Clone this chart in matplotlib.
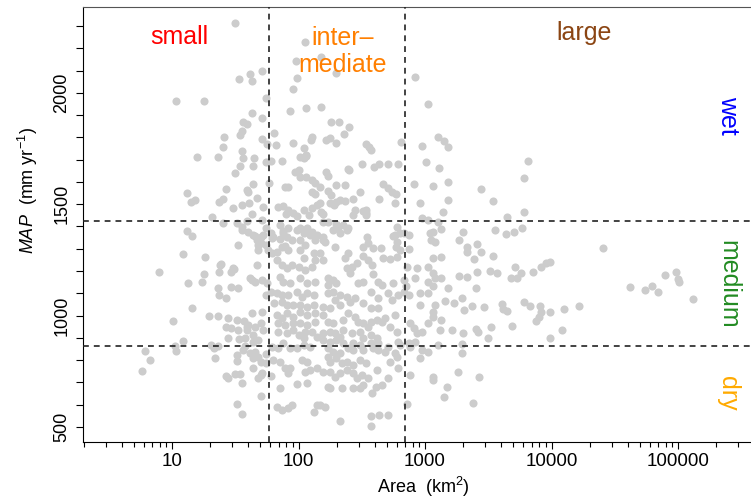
import numpy as np
import matplotlib
matplotlib.use("Agg")
import matplotlib.pyplot as plt
from matplotlib.ticker import FixedLocator, MultipleLocator, FuncFormatter

plt.rcParams['font.family'] = ['Liberation Sans', 'DejaVu Sans']
plt.rcParams['mathtext.fontset'] = 'custom'
plt.rcParams['mathtext.rm'] = 'Liberation Sans'
plt.rcParams['mathtext.it'] = 'Liberation Sans:italic'

# catchments: (log10 area in km2, MAP in mm/yr)
small_pts = [
    (1.50, 2313), (1.03, 1963), (1.25, 1963), (1.71, 2097), (1.62, 2084), (1.53, 2061), (1.63, 2052), (1.74, 1976),
    (1.63, 1909), (1.71, 1886), (1.56, 1868), (1.59, 1859), (1.55, 1828), (1.54, 1810), (1.41, 1801), (1.71, 1792),
    (1.75, 1770), (1.40, 1756), (1.55, 1738), (1.20, 1711), (1.36, 1711), (1.56, 1707), (1.65, 1707), (1.74, 1689),
    (1.54, 1671), (1.64, 1671), (1.50, 1640), (1.64, 1590), (1.43, 1568), (1.59, 1563), (1.60, 1554), (1.12, 1550),
    (1.18, 1518), (1.15, 1509), (1.40, 1523), (1.37, 1509), (1.67, 1527), (1.55, 1496), (1.61, 1505), (1.72, 1487),
    (1.48, 1483), (1.63, 1456), (1.32, 1442), (1.40, 1415), (1.51, 1415), (1.59, 1424), (1.71, 1429), (1.74, 1393),
    (1.12, 1379), (1.16, 1357), (1.55, 1384), (1.60, 1375), (1.55, 1397), (1.66, 1357), (1.70, 1352), (1.72, 1361),
    (1.64, 1361), (1.67, 1339), (1.70, 1325), (1.52, 1316), (1.68, 1316), (1.74, 1316), (1.68, 1294), (1.76, 1294),
    (1.26, 1263), (1.38, 1227), (1.48, 1213), (1.67, 1227), (1.09, 1276), (1.39, 1231), (0.90, 1195), (1.37, 1195),
    (1.47, 1195), (1.49, 1209), (1.25, 1186), (1.62, 1168), (1.66, 1150), (1.71, 1159), (1.75, 1146), (1.47, 1128),
    (1.52, 1124), (1.63, 1159), (1.13, 1146), (1.24, 1150), (1.36, 1124), (1.37, 1092), (1.43, 1079), (1.74, 1092),
    (1.16, 1034), (1.71, 1016), (1.63, 1011), (1.01, 975), (1.29, 998), (1.36, 998), (1.44, 989), (1.51, 980),
    (1.57, 975), (1.43, 948), (1.60, 957), (1.66, 948), (1.72, 935), (1.52, 935), (1.59, 935), (1.64, 912),
    (1.44, 899), (1.53, 895), (1.58, 899), (1.09, 886), (1.02, 863), (1.31, 868), (1.33, 854), (1.36, 863),
    (1.58, 863), (0.79, 841), (1.03, 841), (0.83, 800), (0.76, 751), (1.34, 809), (1.51, 823), (1.62, 832),
    (1.64, 809), (1.74, 827), (1.51, 796), (1.70, 791), (1.74, 787), (1.64, 764), (1.71, 742), (1.43, 729),
    (1.44, 719), (1.50, 737), (1.54, 737), (1.55, 697), (1.70, 639), (1.51, 603), (1.55, 558), (1.59, 948),
    (1.47, 944), (1.70, 966), (1.64, 881), (1.68, 890), (1.56, 845), (1.66, 836), (1.68, 814), (1.70, 733),
    (1.68, 719),
]

intermediate_pts = [
    (1.81, 1819), (1.82, 1765), (1.78, 1693), (1.77, 1595), (1.84, 1487), (1.80, 1352), (1.78, 729), (1.83, 589),
    (2.05, 2228), (2.18, 2160), (1.98, 2142), (2.30, 2088), (1.99, 2066), (1.96, 2017), (1.93, 1918), (2.06, 1931),
    (2.18, 1936), (2.26, 1868), (2.32, 1868), (2.40, 1846), (2.36, 1815), (2.11, 1801), (2.10, 1788), (2.22, 1788),
    (2.25, 1797), (2.30, 1774), (1.96, 1774), (2.04, 1752), (2.53, 1770), (2.56, 1756), (2.81, 1779), (2.06, 1720),
    (2.04, 1707), (1.87, 1693), (2.50, 1680), (2.60, 1666), (2.64, 1680), (2.71, 1680), (2.79, 1680), (1.97, 1644),
    (2.00, 1653), (2.01, 1622), (2.06, 1622), (2.11, 1608), (2.22, 1644), (2.23, 1626), (2.39, 1658), (1.89, 1577),
    (1.92, 1577), (2.17, 1577), (2.30, 1586), (2.37, 1586), (2.67, 1590), (2.71, 1572), (2.74, 1554), (2.77, 1545),
    (2.11, 1554), (2.13, 1545), (2.23, 1559), (2.26, 1541), (2.33, 1518), (2.49, 1554), (1.88, 1491), (1.92, 1474),
    (1.90, 1456), (1.96, 1460), (1.99, 1447), (2.04, 1474), (2.11, 1483), (2.18, 1465), (2.19, 1456), (2.25, 1505),
    (2.30, 1509), (2.37, 1514), (2.43, 1523), (2.53, 1474), (2.53, 1460), (2.64, 1523), (2.76, 1505),
    (1.88, 1370), (1.91, 1352), (1.95, 1339), (1.85, 1343), (1.89, 1312), (1.99, 1384), (2.04, 1370), (2.11, 1375),
    (2.15, 1361), (2.19, 1339), (2.27, 1384), (2.33, 1370), (2.38, 1384), (2.54, 1352), (2.55, 1325), (2.76, 1361),
    (2.78, 1330), (2.01, 1711), (2.06, 1716), (2.13, 1595), (2.08, 1451), (2.15, 1496), (1.78, 1370), (1.79, 1348),
    (1.85, 1406), (1.88, 1379), (1.92, 1393), (2.01, 1393), (2.07, 1393), (2.09, 1361), (2.01, 1339), (2.05, 1316),
    (2.13, 1339), (1.79, 1281), (1.83, 1285), (1.87, 1307), (1.92, 1294), (2.01, 1294), (2.04, 1258), (2.12, 1281),
    (2.13, 1249), (1.83, 1249), (1.87, 1227), (1.91, 1213), (1.95, 1227), (2.00, 1218), (2.05, 1204), (2.11, 1218),
    (1.85, 1173), (1.88, 1150), (1.93, 1146), (2.01, 1168), (2.07, 1146), (2.13, 1150),
    (2.57, 1743), (2.40, 1653), (2.28, 1496), (2.17, 1505), (2.45, 1474), (2.43, 1451), (2.51, 1469), (2.53, 1451),
    (2.19, 1420), (2.23, 1420), (2.30, 1411), (2.31, 1397), (2.35, 1406), (2.39, 1393), (2.78, 1397), (2.80, 1370),
    (2.75, 1357), (2.83, 1370), (2.19, 1352), (2.21, 1330), (2.29, 1307), (2.51, 1307), (2.59, 1303), (2.65, 1303),
    (2.77, 1307), (2.80, 1294), (2.78, 1263), (2.17, 1281), (2.19, 1249), (2.39, 1281), (2.37, 1258), (2.51, 1267),
    (2.55, 1249), (2.46, 1236), (2.42, 1218), (2.38, 1213), (2.41, 1191), (2.58, 1227), (2.59, 1186), (2.67, 1258),
    (2.72, 1254), (2.23, 1168), (2.27, 1159), (2.23, 1137), (2.30, 1146), (2.47, 1146), (2.51, 1150), (2.63, 1150),
    (2.66, 1137), (2.75, 1146), (2.83, 1159),
    (1.78, 1106), (1.83, 1101), (1.87, 1092), (1.92, 1092), (1.99, 1106), (2.03, 1083), (2.07, 1101), (2.12, 1092),
    (1.81, 1056), (1.87, 1061), (1.91, 1047), (1.96, 1047), (2.01, 1047), (2.07, 1038), (2.12, 1047), (1.83, 1002),
    (1.87, 989), (1.91, 1011), (1.96, 993), (2.01, 1016), (2.07, 1002), (2.13, 1011), (1.84, 966), (1.89, 957),
    (1.96, 966), (2.01, 966), (2.07, 957), (2.13, 971), (1.84, 926), (1.91, 921), (1.96, 935), (2.00, 912),
    (2.05, 926), (2.11, 926), (2.15, 904), (2.04, 899), (1.79, 859), (1.84, 854), (1.88, 877), (1.93, 854),
    (1.99, 854), (2.04, 868), (2.09, 859), (1.80, 800), (1.85, 791), (1.89, 764), (1.93, 764), (1.92, 742),
    (2.03, 800), (2.07, 791), (2.05, 746), (2.09, 755), (2.15, 764), (1.85, 675), (1.99, 693), (2.07, 697),
    (1.87, 576), (1.92, 585), (1.95, 598), (2.12, 567), (2.15, 598), (2.33, 527), (2.57, 549), (2.57, 504),
    (2.64, 553), (2.71, 553),
    (2.23, 1101), (2.27, 1106), (2.33, 1092), (2.38, 1083), (2.29, 1070), (2.19, 1038), (2.25, 1034), (2.33, 1047),
    (2.41, 1061), (2.45, 1079), (2.57, 1106), (2.63, 1079), (2.71, 1101), (2.74, 1070), (2.79, 1092), (2.83, 1106),
    (2.51, 1056), (2.57, 1034), (2.63, 1034), (2.19, 1002), (2.23, 971), (2.27, 966), (2.35, 980), (2.39, 1011),
    (2.45, 993), (2.47, 971), (2.51, 966), (2.57, 971), (2.55, 948), (2.62, 980), (2.66, 971), (2.68, 989),
    (2.76, 1002), (2.72, 948), (2.78, 926), (2.19, 921), (2.25, 926), (2.29, 921), (2.33, 904), (2.35, 935),
    (2.42, 921), (2.49, 926), (2.51, 899), (2.57, 912), (2.62, 899), (2.19, 890), (2.25, 881), (2.30, 890),
    (2.35, 877), (2.43, 877), (2.49, 868), (2.57, 877), (2.63, 877), (2.71, 859), (2.23, 854), (2.27, 836),
    (2.33, 832), (2.39, 854), (2.43, 845), (2.51, 845), (2.59, 854), (2.63, 845), (2.68, 836), (2.79, 881),
    (2.80, 868), (2.76, 832), (2.78, 814), (2.23, 814), (2.25, 791), (2.30, 809), (2.34, 787), (2.38, 791),
    (2.43, 778), (2.49, 800), (2.53, 787), (2.19, 746), (2.25, 746), (2.29, 724), (2.33, 742), (2.38, 755),
    (2.43, 742), (2.46, 719), (2.50, 733), (2.55, 719), (2.62, 755), (2.72, 791), (2.79, 764), (2.71, 719),
    (2.23, 679), (2.25, 675), (2.34, 675), (2.43, 675), (2.49, 675), (2.51, 688), (2.58, 652), (2.61, 679),
    (2.66, 688), (2.17, 598), (2.21, 589),
]

large_pts = [
    (2.92, 2070), (3.02, 1949), (2.98, 1761), (3.10, 1801), (3.15, 1783), (3.18, 1756), (3.01, 1689), (3.11, 1662),
    (2.91, 1590), (3.06, 1581), (3.18, 1599), (2.96, 1505), (3.18, 1518), (3.14, 1465), (2.98, 1438), (3.02, 1429),
    (3.06, 1375), (3.05, 1339), (3.13, 1388), (3.27, 1339), (3.44, 1568), (3.54, 1514), (3.81, 1693), (3.78, 1617),
    (3.78, 1465), (3.65, 1442), (3.30, 1375), (3.55, 1384), (3.64, 1366), (3.70, 1375), (3.77, 1393), (3.33, 1307),
    (3.41, 1321), (4.41, 1303), (3.33, 1285), (3.44, 1285), (3.39, 1254), (3.54, 1267), (3.13, 1263), (3.13, 1168),
    (3.27, 1177), (3.33, 1173), (3.41, 1195), (3.51, 1200), (3.57, 1191), (3.71, 1218), (3.76, 1191), (3.68, 1168),
    (3.73, 1168), (3.85, 1195), (3.92, 1218), (3.96, 1236), (3.99, 1240), (3.18, 1124), (3.40, 1124), (3.16, 1065),
    (3.23, 1056), (3.29, 1079), (3.31, 1025), (3.37, 1043), (3.47, 1038), (3.61, 1052), (3.62, 1029), (3.65, 1020),
    (3.78, 1061), (3.83, 1043), (3.91, 1043), (3.92, 1016), (3.90, 993), (3.88, 975), (3.99, 1016), (4.10, 1029),
    (4.22, 1043), (4.62, 1128), (4.74, 1115), (4.79, 1133), (4.84, 1106), (4.90, 1182), (4.98, 1195), (5.00, 1164),
    (5.01, 1150), (5.12, 1074), (3.21, 935), (3.30, 921), (3.40, 939), (3.42, 926), (3.52, 948), (3.50, 899),
    (3.69, 953), (3.99, 899), (4.08, 935), (3.29, 872), (3.29, 832), (3.26, 746), (3.43, 724), (3.17, 679),
    (3.15, 634), (3.38, 607), (2.86, 1218), (2.94, 1213), (2.92, 1168), (3.06, 1258), (3.02, 1218), (3.06, 1191),
    (3.08, 1168), (3.02, 1150), (3.06, 1132), (2.85, 1132), (2.87, 1299), (2.87, 1361), (3.04, 1370), (3.08, 1330),
    (3.10, 1420), (2.87, 1092), (2.96, 1101), (3.02, 1101), (2.96, 1047), (3.08, 1047), (2.88, 966), (2.91, 944),
    (2.94, 921), (2.98, 926), (3.02, 966), (3.06, 1016), (3.06, 993), (2.87, 877), (2.92, 881), (2.88, 859),
    (2.98, 845), (3.02, 836), (3.10, 868), (2.96, 809), (2.88, 733), (3.06, 724), (3.06, 710), (2.86, 603),
    (3.13, 980), (3.12, 935),
]

area_cuts = [58, 700]        # small / intermediate / large
map_cuts = [863, 1425]       # dry / medium / wet
x_ticks = [10, 100, 1000, 10000, 100000]

fig = plt.figure(figsize=(7.51, 4.98), dpi=100)
ax = fig.add_axes([0.1105, 0.1124, 0.8895, 0.8735])

for pts in [small_pts, intermediate_pts, large_pts]:
    arr = np.array(pts)
    ax.scatter(10 ** arr[:, 0], arr[:, 1], s=34, c='#cccccc', linewidths=0, zorder=2)

for xc in area_cuts:
    ax.axvline(xc, color='#222222', lw=1.2, ls=(0, (3.5, 3)), zorder=3)
for yc in map_cuts:
    ax.axhline(yc, color='#222222', lw=1.2, ls=(0, (3.5, 3)), zorder=3)

ax.set_xscale('log')
ax.set_xlim(1.98, 377000)
ax.set_ylim(432, 2385)

ax.xaxis.set_major_locator(FixedLocator(x_ticks))
ax.xaxis.set_minor_locator(FixedLocator([m * 10 ** e for e in range(0, 6) for m in range(2, 10)]))
ax.xaxis.set_major_formatter(FuncFormatter(lambda v, _: f'{int(v)}'))
ax.xaxis.set_minor_formatter(FuncFormatter(lambda v, _: ''))
ax.yaxis.set_major_locator(MultipleLocator(500))
ax.yaxis.set_minor_locator(MultipleLocator(100))

ax.tick_params(axis='x', which='major', length=5, width=0.8, labelsize=13.5, pad=3)
ax.tick_params(axis='x', which='minor', length=3.5, width=0.8)
ax.tick_params(axis='y', which='both', length=5, width=0.8, labelsize=13, pad=4)
for lab in ax.get_yticklabels():
    lab.set_rotation(90)
    lab.set_va('center')

ax.spines['right'].set_visible(False)
for s in ['left', 'bottom', 'top']:
    ax.spines[s].set_linewidth(0.8)
ax.spines['top'].set_color('#555555')

ax.set_xlabel('Area  (km$^2$)', fontsize=13, va='center')
ax.xaxis.set_label_coords(0.509, -0.103)
ax.set_ylabel('$\\mathit{MAP}$  (mm yr$^{-1}$)', fontsize=13, va='center', ha='center')
ax.yaxis.set_label_coords(-0.082, 0.579)

ax.text(11.4, 2250, 'small', color='red', fontsize=18, ha='center', va='center')
ax.text(225, 2187, 'inter\u2013\nmediate', color='#FF7F00', fontsize=18, ha='center', va='center',
        linespacing=1.15)
ax.text(18070, 2268, 'large', color='#8B4513', fontsize=18, ha='center', va='center')
ax.text(250000, 1900, 'wet', color='blue', fontsize=18, ha='center', va='center', rotation=-90)
ax.text(250000, 1141, 'medium', color='#228B22', fontsize=18, ha='center', va='center', rotation=-90)
ax.text(250000, 652, 'dry', color='#FFAA00', fontsize=18, ha='center', va='center', rotation=-90)

fig.savefig('out.png', dpi=100)
